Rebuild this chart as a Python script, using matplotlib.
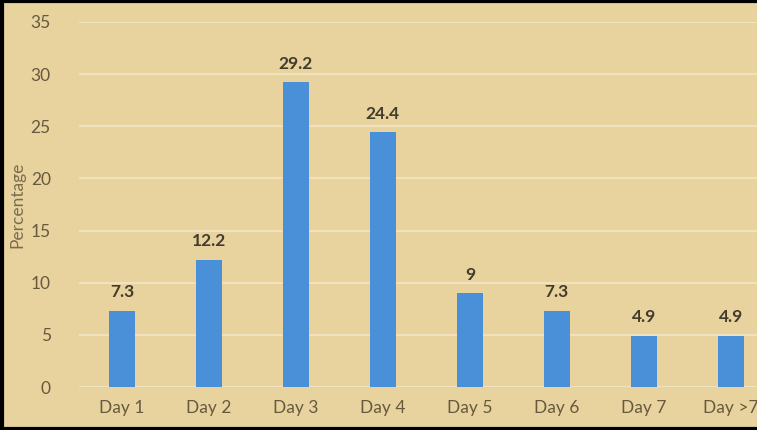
import matplotlib.pyplot as plt
from matplotlib.lines import Line2D

# Data
days = ["Day 1", "Day 2", "Day 3", "Day 4", "Day 5", "Day 6", "Day 7", "Day >7"]
percent = [7.3, 12.2, 29.2, 24.4, 9, 7.3, 4.9, 4.9]
value_labels = ["7.3", "12.2", "29.2", "24.4", "9", "7.3", "4.9", "4.9"]

plt.rcParams['font.family'] = ['Lato', 'DejaVu Sans']

fig = plt.figure(figsize=(7.57, 4.30), dpi=100)
fig.patch.set_facecolor("#E8D39E")

# axes run past the right edge, so the last label is cut off
ax = fig.add_axes([0.1037, 0.1, 0.919, 0.849])
ax.set_facecolor("none")

x = range(len(days))
ax.bar(x, percent, width=0.3, color="#4A90D9", zorder=3)
for i, v in enumerate(percent):
    ax.text(i, v + 1.0, value_labels[i], ha="center", va="bottom",
            fontsize=12.5, color="#433B2C", fontweight="bold")

ax.set_xlim(-0.5, len(days) - 0.5)
ax.set_ylim(0, 35)
ax.set_yticks(range(0, 36, 5))
ax.set_xticks(list(x))
ax.set_xticklabels(days)
ax.yaxis.grid(True, color="#F2E6C6", linewidth=1.2, zorder=0)
ax.tick_params(axis="both", length=0, labelsize=12.5, colors="#66593F")
ax.tick_params(axis="y", pad=20)
ax.tick_params(axis="x", pad=9)
for s in ax.spines.values():
    s.set_visible(False)

ax.set_ylabel("Percentage", fontsize=12.5, color="#7A6C50", labelpad=4)

# black frame on left, top and bottom
frame = dict(color="black", linewidth=3, transform=fig.transFigure)
fig.add_artist(Line2D([0.002, 0.002], [0, 1], **frame))
fig.add_artist(Line2D([0, 1], [0.997, 0.997], **frame))
fig.add_artist(Line2D([0, 1], [0.003, 0.003], **frame))

plt.savefig("out.png", dpi=100)
plt.close()
